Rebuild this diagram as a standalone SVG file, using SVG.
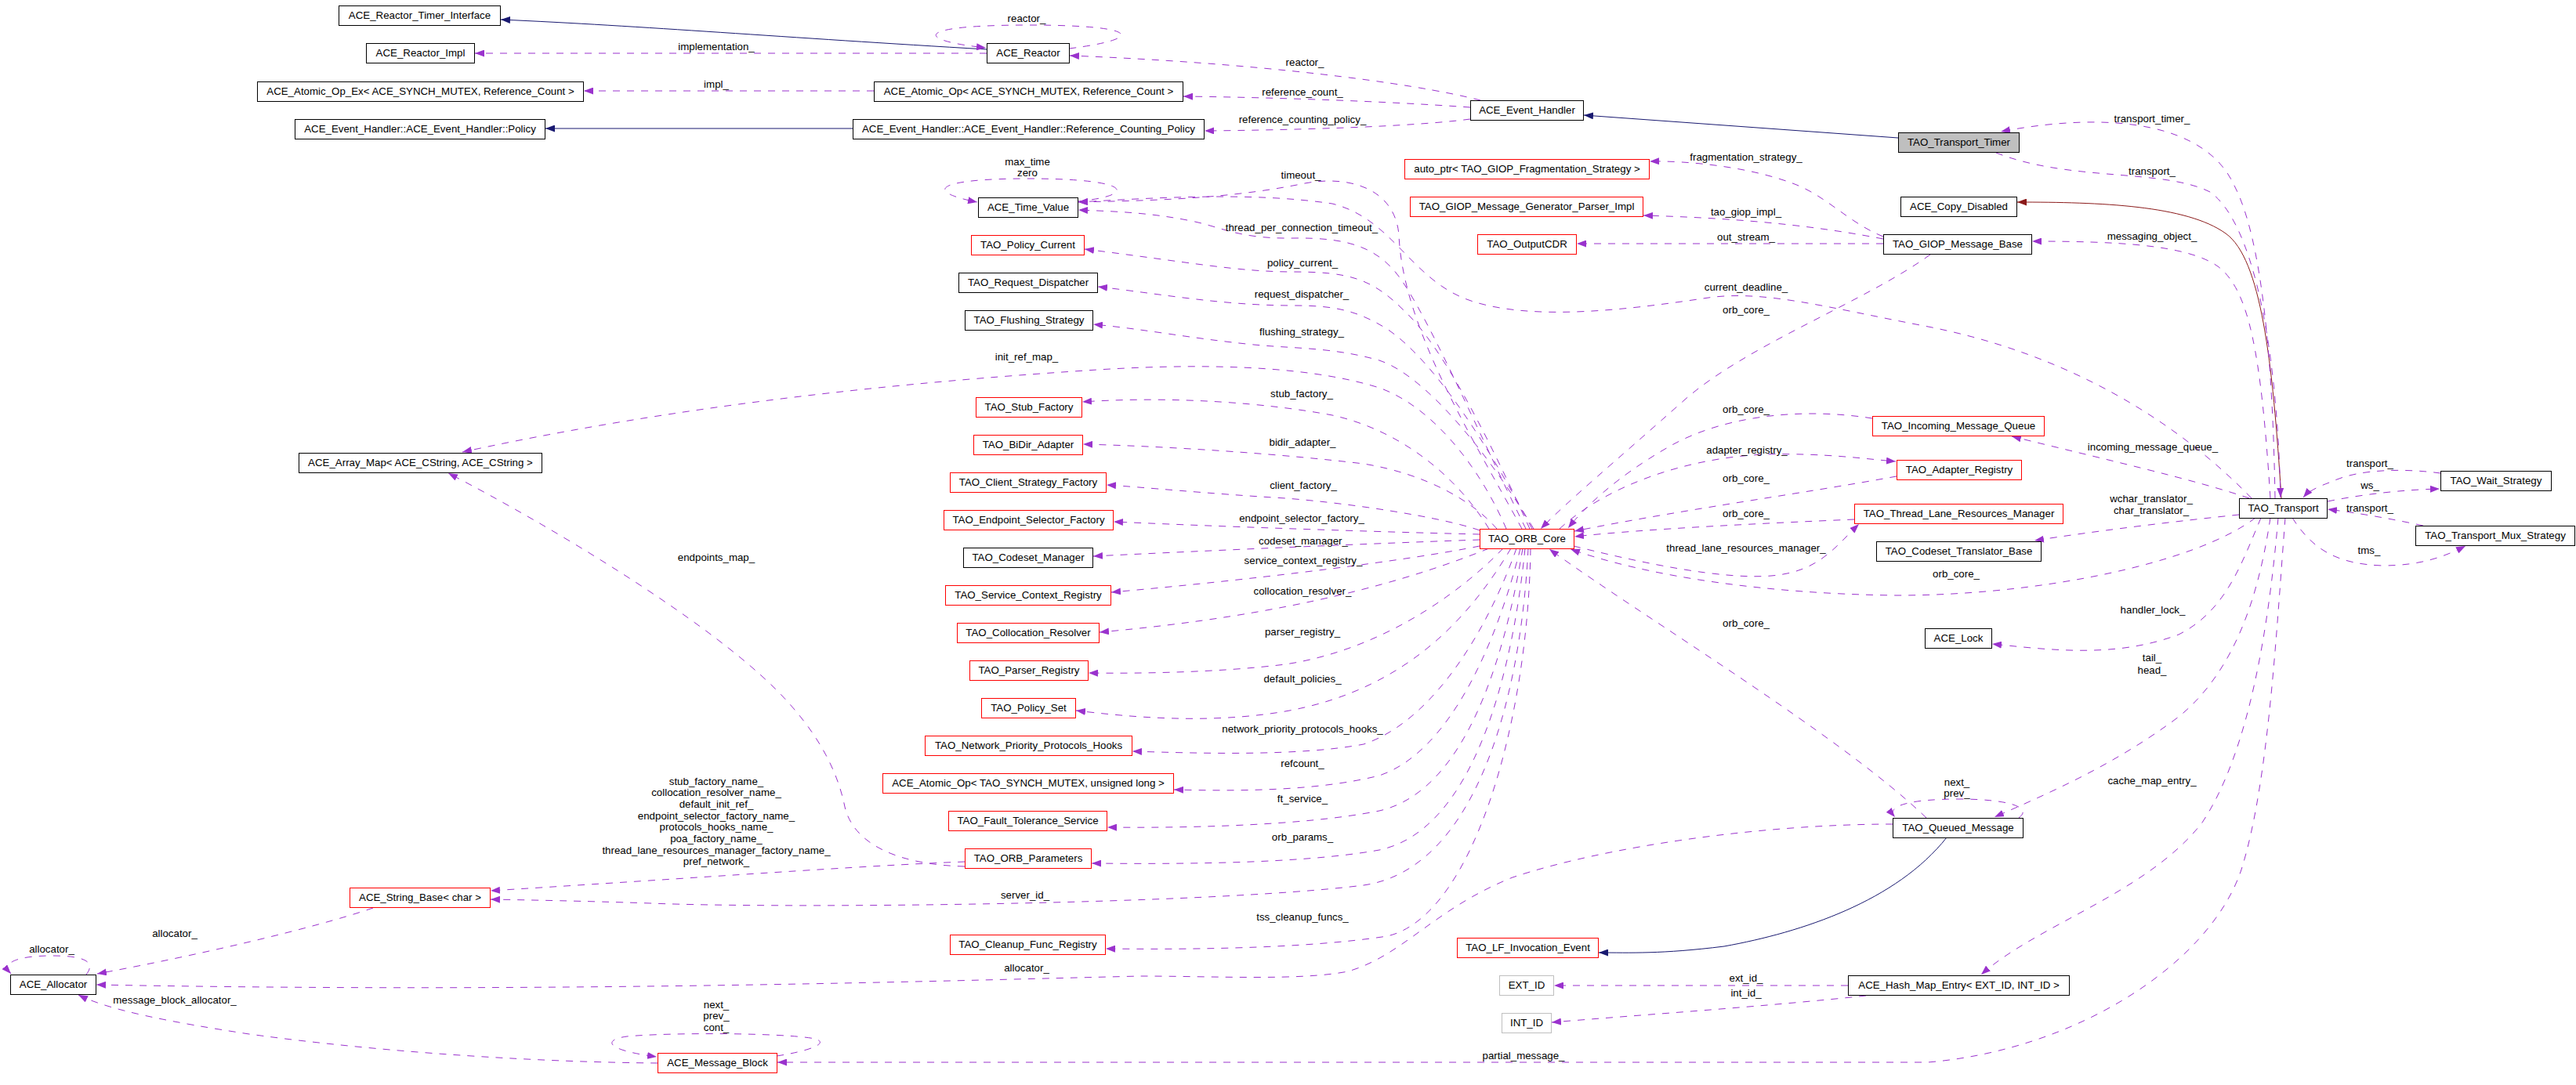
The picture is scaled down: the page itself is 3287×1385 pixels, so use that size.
<svg xmlns="http://www.w3.org/2000/svg" width="3287" height="1385" viewBox="0 0 3287 1385">
<defs>
<style>
.t{font-family:"Liberation Sans",Arial,Helvetica,sans-serif;font-size:13.3px;text-anchor:middle;fill:#000}
.nd rect{fill:#fff;stroke:#000;stroke-width:1}
.nd.r rect{stroke:#ff0000}
.nd.g rect{stroke:#bfbfbf}
.nd.root rect{fill:#bfbfbf}
.u{fill:none;stroke:#9a32cd;stroke-width:1;stroke-dasharray:9,9;marker-end:url(#mu)}
.i{fill:none;stroke:#191970;stroke-width:1;marker-end:url(#mi)}
.p{fill:none;stroke:#8b1a1a;stroke-width:1;marker-end:url(#mp)}
</style>
<marker id="mu" viewBox="0 0 12 9" refX="12" refY="4.5" markerWidth="12" markerHeight="9" markerUnits="userSpaceOnUse" orient="auto"><path d="M0,0 L12,4.5 L0,9 z" fill="#9a32cd" stroke="none"/></marker>
<marker id="mi" viewBox="0 0 12 9" refX="12" refY="4.5" markerWidth="12" markerHeight="9" markerUnits="userSpaceOnUse" orient="auto"><path d="M0,0 L12,4.5 L0,9 z" fill="#191970" stroke="none"/></marker>
<marker id="mp" viewBox="0 0 12 9" refX="12" refY="4.5" markerWidth="12" markerHeight="9" markerUnits="userSpaceOnUse" orient="auto"><path d="M0,0 L12,4.5 L0,9 z" fill="#8b1a1a" stroke="none"/></marker>
</defs>
<rect x="0" y="0" width="3287" height="1385" fill="#fff"/>
<g id="edges">
<!-- inheritance -->
<path class="i" d="M1259,63 C1000,48 820,33 639,25"/>
<path class="i" d="M1088,164 L696,164"/>
<path class="i" d="M2422,176 L2021,147"/>
<path class="p" d="M2911,636 C2900,460 2885,330 2840,298 C2790,262 2680,258 2574,258"/>
<path class="i" d="M2484,1069 C2420,1150 2300,1190 2200,1208 C2120,1218 2080,1216 2040,1216"/>
<!-- ACE_Reactor -->
<path class="u" d="M1259,68 L606,68"/>
<text class="t" x="914" y="64">implementation_</text>
<path class="u" d="M1364,62 C1460,50 1460,32 1312,32 C1160,32 1170,52 1258,61"/>
<text class="t" x="1310" y="28">reactor_</text>
<path class="u" d="M1115,116 L745,116"/>
<text class="t" x="914" y="112">impl_</text>
<!-- ACE_Event_Handler -->
<path class="u" d="M1889,128 C1800,105 1600,80 1365,71"/>
<text class="t" x="1665" y="84">reactor_</text>
<path class="u" d="M1876,137 C1750,128 1600,124 1510,123"/>
<text class="t" x="1662" y="122">reference_count_</text>
<path class="u" d="M1876,152 C1800,162 1650,166 1537,167"/>
<text class="t" x="1662" y="157">reference_counting_policy_</text>
<!-- Transport_Timer / Transport -->
<path class="u" d="M2903,636 C2900,450 2885,300 2850,235 C2815,160 2700,140 2553,168"/>
<text class="t" x="2746" y="156">transport_timer_</text>
<path class="u" d="M2547,195 C2640,232 2760,215 2820,245 C2870,280 2905,420 2910,635"/>
<text class="t" x="2746" y="223">transport_</text>
<path class="u" d="M2897,636 C2885,450 2870,370 2830,340 C2790,312 2700,308 2593,308"/>
<text class="t" x="2746" y="306">messaging_object_</text>
<!-- GIOP_Message_Base -->
<path class="u" d="M2403,302 C2360,285 2330,250 2290,235 C2230,212 2150,205 2105,206"/>
<text class="t" x="2228" y="205">fragmentation_strategy_</text>
<path class="u" d="M2403,305 C2300,285 2200,278 2097,275"/>
<text class="t" x="2228" y="275">tao_giop_impl_</text>
<path class="u" d="M2403,311 L2012,311"/>
<text class="t" x="2228" y="307">out_stream_</text>
<path class="u" d="M2463,325 C2380,385 2230,440 2150,510 C2060,590 2000,640 1966,675"/>
<text class="t" x="2228" y="400">orb_core_</text>
<!-- current_deadline_ -->
<path class="u" d="M2873,636 C2780,540 2640,450 2450,415 C2330,392 2250,370 2180,380 C2080,395 1960,410 1880,385 C1800,360 1780,280 1700,260 C1600,245 1480,252 1376,258"/>
<text class="t" x="2228" y="371">current_deadline_</text>
<!-- Time_Value self loop -->
<path class="u" d="M1375,257 C1450,250 1450,228 1312,228 C1190,228 1180,245 1247,258"/>
<text class="t" x="1311" y="211">max_time</text>
<text class="t" x="1311" y="225">zero</text>
<!-- ORB_Core to left -->
<path class="u" d="M1942,675 C1880,560 1790,420 1785,300 C1780,240 1720,222 1660,235 C1560,255 1460,256 1376,258"/>
<text class="t" x="1660" y="228">timeout_</text>
<path class="u" d="M1947,675 C1890,560 1830,420 1790,360 C1760,315 1720,303 1650,304 C1580,305 1560,290 1520,282 C1470,272 1430,270 1376,268"/>
<text class="t" x="1661" y="295">thread_per_connection_timeout_</text>
<path class="u" d="M1952,675 C1900,560 1840,440 1790,395 C1750,355 1720,347 1650,347 C1580,347 1520,335 1384,318"/>
<text class="t" x="1662" y="340">policy_current_</text>
<path class="u" d="M1955,675 C1900,570 1830,460 1770,420 C1730,395 1700,390 1650,390 C1560,390 1480,375 1401,366"/>
<text class="t" x="1661" y="380">request_dispatcher_</text>
<path class="u" d="M1957,675 C1900,580 1820,480 1760,460 C1700,443 1650,445 1600,440 C1520,432 1460,420 1395,414"/>
<text class="t" x="1661" y="428">flushing_strategy_</text>
<path class="u" d="M1922,675 C1890,600 1830,520 1760,495 C1680,470 1560,462 1400,472 C1200,485 900,510 590,577"/>
<text class="t" x="1310" y="460">init_ref_map_</text>
<path class="u" d="M1900,675 C1860,610 1790,550 1700,530 C1620,515 1500,505 1381,513"/>
<text class="t" x="1661" y="507">stub_factory_</text>
<path class="u" d="M1910,675 C1880,640 1820,605 1740,592 C1640,580 1500,570 1382,567"/>
<text class="t" x="1662" y="569">bidir_adapter_</text>
<path class="u" d="M1888,677 C1840,660 1720,642 1640,636 C1540,630 1460,622 1412,619"/>
<text class="t" x="1663" y="624">client_factory_</text>
<path class="u" d="M1888,682 C1800,680 1600,674 1421,666"/>
<text class="t" x="1661" y="666">endpoint_selector_factory_</text>
<path class="u" d="M1888,689 C1800,692 1600,700 1395,710"/>
<text class="t" x="1663" y="695">codeset_manager_</text>
<path class="u" d="M1888,697 C1800,715 1600,740 1418,756"/>
<text class="t" x="1663" y="720">service_context_registry_</text>
<path class="u" d="M1900,700 C1800,740 1650,785 1403,807"/>
<text class="t" x="1662" y="759">collocation_resolver_</text>
<path class="u" d="M1918,700 C1860,760 1760,830 1640,848 C1560,858 1460,860 1389,859"/>
<text class="t" x="1662" y="811">parser_registry_</text>
<path class="u" d="M1928,700 C1880,780 1800,880 1640,908 C1540,925 1440,915 1373,907"/>
<text class="t" x="1662" y="871">default_policies_</text>
<path class="u" d="M1935,700 C1900,800 1830,920 1740,950 C1660,965 1540,962 1445,959"/>
<text class="t" x="1662" y="935">network_priority_protocols_hooks_</text>
<path class="u" d="M1940,700 C1910,820 1850,960 1760,990 C1680,1010 1580,1010 1498,1008"/>
<text class="t" x="1662" y="979">refcount_</text>
<path class="u" d="M1943,700 C1920,840 1870,1010 1760,1035 C1660,1055 1500,1057 1413,1056"/>
<text class="t" x="1662" y="1024">ft_service_</text>
<path class="u" d="M1946,700 C1930,860 1880,1060 1760,1085 C1660,1103 1500,1103 1393,1102"/>
<text class="t" x="1662" y="1073">orb_params_</text>
<path class="u" d="M1950,700 C1940,900 1880,1110 1740,1130 C1540,1155 1000,1160 830,1153 C740,1150 680,1149 626,1148"/>
<text class="t" x="1308" y="1147">server_id_</text>
<path class="u" d="M1953,700 C1950,920 1880,1170 1770,1195 C1660,1212 1500,1212 1411,1211"/>
<text class="t" x="1662" y="1175">tss_cleanup_funcs_</text>
<!-- ORB_Parameters -->
<path class="u" d="M1231,1100 C1100,1105 900,1120 626,1137"/>
<text class="t" x="914" y="1002">stub_factory_name_</text>
<text class="t" x="914" y="1016">collocation_resolver_name_</text>
<text class="t" x="914" y="1031">default_init_ref_</text>
<text class="t" x="914" y="1046">endpoint_selector_factory_name_</text>
<text class="t" x="914" y="1060">protocols_hooks_name_</text>
<text class="t" x="914" y="1075">poa_factory_name_</text>
<text class="t" x="914" y="1090">thread_lane_resources_manager_factory_name_</text>
<text class="t" x="914" y="1104">pref_network_</text>
<path class="u" d="M1231,1106 C1150,1104 1090,1080 1078,1030 C1068,980 1040,930 990,880 C900,790 700,670 572,604"/>
<text class="t" x="914" y="716">endpoints_map_</text>
<!-- String_Base / Allocator / Message_Block -->
<path class="u" d="M476,1159 C400,1185 250,1220 124,1243"/>
<text class="t" x="223" y="1196">allocator_</text>
<path class="u" d="M110,1244 C125,1225 100,1220 66,1220 C25,1220 0,1228 14,1243"/>
<text class="t" x="66" y="1216">allocator_</text>
<path class="u" d="M839,1357 C700,1356 500,1345 318,1320 C220,1305 140,1290 100,1270"/>
<text class="t" x="223" y="1281">message_block_allocator_</text>
<path class="u" d="M991,1348 C1030,1342 1060,1332 1040,1326 C1000,1318 850,1318 800,1323 C770,1327 770,1340 838,1349"/>
<text class="t" x="914" y="1287">next_</text>
<text class="t" x="914" y="1301">prev_</text>
<text class="t" x="914" y="1316">cont_</text>
<!-- Queued_Message -->
<path class="u" d="M2415,1052 C2250,1052 2050,1080 1930,1120 C1830,1160 1790,1220 1720,1240 C1660,1252 1550,1246 1455,1246 C1200,1252 700,1268 123,1257"/>
<text class="t" x="1310" y="1240">allocator_</text>
<path class="u" d="M2458,1044 C2350,940 2100,790 1977,701"/>
<text class="t" x="2228" y="800">orb_core_</text>
<path class="u" d="M2576,1044 C2595,1030 2560,1020 2500,1020 C2440,1020 2405,1028 2418,1043"/>
<text class="t" x="2497" y="1003">next_</text>
<text class="t" x="2497" y="1017">prev_</text>
<!-- Hash_Map_Entry -->
<path class="u" d="M2358,1258 L1983,1258"/>
<text class="t" x="2228" y="1253">ext_id_</text>
<path class="u" d="M2381,1271 C2250,1285 2100,1295 1980,1305"/>
<text class="t" x="2228" y="1272">int_id_</text>
<!-- Transport lower -->
<path class="u" d="M2916,661 C2905,800 2895,1000 2860,1110 C2820,1230 2650,1340 2460,1356 L992,1356"/>
<text class="t" x="1944" y="1352">partial_message_</text>
<path class="u" d="M2907,661 C2895,800 2870,960 2810,1050 C2740,1140 2600,1180 2528,1244"/>
<text class="t" x="2746" y="1001">cache_map_entry_</text>
<path class="u" d="M2897,661 C2885,740 2860,850 2780,915 C2700,975 2620,1010 2545,1043"/>
<text class="t" x="2746" y="844">tail_</text>
<text class="t" x="2746" y="860">head_</text>
<path class="u" d="M2885,661 C2860,720 2840,780 2780,810 C2700,840 2620,830 2542,822"/>
<text class="t" x="2747" y="783">handler_lock_</text>
<path class="u" d="M2878,661 C2800,720 2600,760 2420,760 C2250,758 2100,735 2004,701"/>
<text class="t" x="2496" y="737">orb_core_</text>
<path class="u" d="M2857,657 C2780,665 2680,677 2596,690"/>
<text class="t" x="2745" y="641">wchar_translator_</text>
<text class="t" x="2745" y="656">char_translator_</text>
<path class="u" d="M2870,636 C2800,612 2680,585 2567,557"/>
<text class="t" x="2747" y="575">incoming_message_queue_</text>
<!-- Wait / Mux -->
<path class="u" d="M2970,640 C3020,630 3070,625 3113,624"/>
<text class="t" x="3024" y="624">ws_</text>
<path class="u" d="M3114,604 C3070,598 3010,598 2975,615 C2955,622 2945,628 2939,635"/>
<text class="t" x="3024" y="596">transport_</text>
<path class="u" d="M3092,671 C3050,662 3010,655 2970,650"/>
<text class="t" x="3024" y="653">transport_</text>
<path class="u" d="M2925,661 C2950,700 2980,720 3040,722 C3090,722 3120,710 3146,697"/>
<text class="t" x="3023" y="707">tms_</text>
<!-- ORB_Core right -->
<path class="u" d="M2389,534 C2300,520 2200,530 2130,570 C2060,610 2020,650 2001,674"/>
<text class="t" x="2228" y="527">orb_core_</text>
<path class="u" d="M1990,675 C2050,620 2150,585 2250,580 C2330,578 2380,586 2419,589"/>
<text class="t" x="2229" y="579">adapter_registry_</text>
<path class="u" d="M2420,608 C2300,630 2150,650 2009,678"/>
<text class="t" x="2228" y="615">orb_core_</text>
<path class="u" d="M2366,663 C2250,668 2100,675 2009,685"/>
<text class="t" x="2228" y="660">orb_core_</text>
<path class="u" d="M2008,697 C2100,720 2200,740 2260,735 C2320,730 2340,700 2372,669"/>
<text class="t" x="2228" y="704">thread_lane_resources_manager_</text>
</g>
<g id="node-timer-interface" class="nd"><rect x="432.5" y="7.5" width="206" height="25"/><text class="t" x="535.5" y="24">ACE_Reactor_Timer_Interface</text></g>
<g id="node-reactor-impl" class="nd"><rect x="467.5" y="55.5" width="138" height="25"/><text class="t" x="536.5" y="72">ACE_Reactor_Impl</text></g>
<g id="node-atomic-op-ex" class="nd"><rect x="328.5" y="104.5" width="416" height="25"/><text class="t" x="536.5" y="121">ACE_Atomic_Op_Ex&lt; ACE_SYNCH_MUTEX, Reference_Count &gt;</text></g>
<g id="node-eh-policy" class="nd"><rect x="376.5" y="152.5" width="319" height="25"/><text class="t" x="536" y="169">ACE_Event_Handler::ACE_Event_Handler::Policy</text></g>
<g id="node-reactor" class="nd"><rect x="1259.5" y="55.5" width="105" height="25"/><text class="t" x="1312" y="72">ACE_Reactor</text></g>
<g id="node-atomic-op" class="nd"><rect x="1115.5" y="104.5" width="394" height="25"/><text class="t" x="1312.5" y="121">ACE_Atomic_Op&lt; ACE_SYNCH_MUTEX, Reference_Count &gt;</text></g>
<g id="node-rcp" class="nd"><rect x="1088.5" y="152.5" width="448" height="25"/><text class="t" x="1312.5" y="169">ACE_Event_Handler::ACE_Event_Handler::Reference_Counting_Policy</text></g>
<g id="node-event-handler" class="nd"><rect x="1876.5" y="128.5" width="144" height="25"/><text class="t" x="1948.5" y="145">ACE_Event_Handler</text></g>
<g id="node-transport-timer" class="nd root"><rect x="2422.5" y="169.5" width="154" height="25"/><text class="t" x="2499.5" y="186">TAO_Transport_Timer</text></g>
<g id="node-auto-ptr" class="nd r"><rect x="1792.5" y="203.5" width="312" height="25"/><text class="t" x="1948.5" y="220">auto_ptr&lt; TAO_GIOP_Fragmentation_Strategy &gt;</text></g>
<g id="node-giop-gen" class="nd r"><rect x="1799.5" y="251.5" width="297" height="25"/><text class="t" x="1948" y="268">TAO_GIOP_Message_Generator_Parser_Impl</text></g>
<g id="node-outputcdr" class="nd r"><rect x="1885.5" y="299.5" width="126" height="25"/><text class="t" x="1948.5" y="316">TAO_OutputCDR</text></g>
<g id="node-giop-base" class="nd"><rect x="2403.5" y="299.5" width="189" height="25"/><text class="t" x="2498" y="316">TAO_GIOP_Message_Base</text></g>
<g id="node-copy-disabled" class="nd"><rect x="2425.5" y="251.5" width="148" height="25"/><text class="t" x="2499.5" y="268">ACE_Copy_Disabled</text></g>
<g id="node-time-value" class="nd"><rect x="1248.5" y="252.5" width="127" height="25"/><text class="t" x="1312" y="269">ACE_Time_Value</text></g>
<g id="node-policy-current" class="nd r"><rect x="1239.5" y="300.5" width="144" height="25"/><text class="t" x="1311.5" y="317">TAO_Policy_Current</text></g>
<g id="node-request-dispatcher" class="nd"><rect x="1223.5" y="348.5" width="177" height="25"/><text class="t" x="1312" y="365">TAO_Request_Dispatcher</text></g>
<g id="node-flushing" class="nd"><rect x="1231.5" y="396.5" width="163" height="25"/><text class="t" x="1313" y="413">TAO_Flushing_Strategy</text></g>
<g id="node-array-map" class="nd"><rect x="381.5" y="578.5" width="310" height="25"/><text class="t" x="536.5" y="595">ACE_Array_Map&lt; ACE_CString, ACE_CString &gt;</text></g>
<g id="node-stub-factory" class="nd r"><rect x="1245.5" y="507.5" width="135" height="25"/><text class="t" x="1313" y="524">TAO_Stub_Factory</text></g>
<g id="node-bidir" class="nd r"><rect x="1242.5" y="555.5" width="139" height="25"/><text class="t" x="1312" y="572">TAO_BiDir_Adapter</text></g>
<g id="node-client-strategy" class="nd r"><rect x="1212.5" y="603.5" width="199" height="25"/><text class="t" x="1312" y="620">TAO_Client_Strategy_Factory</text></g>
<g id="node-endpoint-selector" class="nd r"><rect x="1204.5" y="651.5" width="216" height="25"/><text class="t" x="1312.5" y="668">TAO_Endpoint_Selector_Factory</text></g>
<g id="node-codeset-manager" class="nd"><rect x="1229.5" y="699.5" width="165" height="25"/><text class="t" x="1312" y="716">TAO_Codeset_Manager</text></g>
<g id="node-service-context" class="nd r"><rect x="1206.5" y="747.5" width="211" height="25"/><text class="t" x="1312" y="764">TAO_Service_Context_Registry</text></g>
<g id="node-collocation" class="nd r"><rect x="1221.5" y="795.5" width="181" height="25"/><text class="t" x="1312" y="812">TAO_Collocation_Resolver</text></g>
<g id="node-parser-registry" class="nd r"><rect x="1237.5" y="843.5" width="151" height="25"/><text class="t" x="1313" y="860">TAO_Parser_Registry</text></g>
<g id="node-policy-set" class="nd r"><rect x="1252.5" y="891.5" width="120" height="25"/><text class="t" x="1312.5" y="908">TAO_Policy_Set</text></g>
<g id="node-npph" class="nd r"><rect x="1180.5" y="939.5" width="264" height="25"/><text class="t" x="1312.5" y="956">TAO_Network_Priority_Protocols_Hooks</text></g>
<g id="node-atomic-op-tao" class="nd r"><rect x="1126.5" y="987.5" width="371" height="25"/><text class="t" x="1312" y="1004">ACE_Atomic_Op&lt; TAO_SYNCH_MUTEX, unsigned long &gt;</text></g>
<g id="node-fault-tolerance" class="nd r"><rect x="1210.5" y="1035.5" width="202" height="25"/><text class="t" x="1311.5" y="1052">TAO_Fault_Tolerance_Service</text></g>
<g id="node-orb-parameters" class="nd r"><rect x="1231.5" y="1083.5" width="161" height="25"/><text class="t" x="1312" y="1100">TAO_ORB_Parameters</text></g>
<g id="node-cleanup" class="nd r"><rect x="1212.5" y="1193.5" width="198" height="25"/><text class="t" x="1311.5" y="1210">TAO_Cleanup_Func_Registry</text></g>
<g id="node-message-block" class="nd r"><rect x="839.5" y="1344.5" width="152" height="25"/><text class="t" x="915.5" y="1361">ACE_Message_Block</text></g>
<g id="node-string-base" class="nd r"><rect x="446.5" y="1133.5" width="179" height="25"/><text class="t" x="536" y="1150">ACE_String_Base&lt; char &gt;</text></g>
<g id="node-allocator" class="nd"><rect x="13.5" y="1244.5" width="109" height="25"/><text class="t" x="68" y="1261">ACE_Allocator</text></g>
<g id="node-orb-core" class="nd r"><rect x="1888.5" y="675.5" width="120" height="25"/><text class="t" x="1948.5" y="692">TAO_ORB_Core</text></g>
<g id="node-imq" class="nd r"><rect x="2389.5" y="531.5" width="219" height="25"/><text class="t" x="2499" y="548">TAO_Incoming_Message_Queue</text></g>
<g id="node-adapter-registry" class="nd r"><rect x="2420.5" y="587.5" width="159" height="25"/><text class="t" x="2500" y="604">TAO_Adapter_Registry</text></g>
<g id="node-tlrm" class="nd r"><rect x="2366.5" y="643.5" width="266" height="25"/><text class="t" x="2499.5" y="660">TAO_Thread_Lane_Resources_Manager</text></g>
<g id="node-codeset-translator" class="nd"><rect x="2394.5" y="691.5" width="210" height="25"/><text class="t" x="2499.5" y="708">TAO_Codeset_Translator_Base</text></g>
<g id="node-ace-lock" class="nd"><rect x="2456.5" y="802.5" width="85" height="25"/><text class="t" x="2499" y="819">ACE_Lock</text></g>
<g id="node-transport" class="nd"><rect x="2857.5" y="636.5" width="112" height="25"/><text class="t" x="2913.5" y="653">TAO_Transport</text></g>
<g id="node-wait-strategy" class="nd"><rect x="3114.5" y="601.5" width="141" height="25"/><text class="t" x="3185" y="618">TAO_Wait_Strategy</text></g>
<g id="node-mux-strategy" class="nd"><rect x="3082.5" y="671.5" width="203" height="25"/><text class="t" x="3184" y="688">TAO_Transport_Mux_Strategy</text></g>
<g id="node-lf-event" class="nd r"><rect x="1859.5" y="1197.5" width="180" height="25"/><text class="t" x="1949.5" y="1214">TAO_LF_Invocation_Event</text></g>
<g id="node-ext-id" class="nd g"><rect x="1913.5" y="1245.5" width="69" height="25"/><text class="t" x="1948" y="1262">EXT_ID</text></g>
<g id="node-int-id" class="nd g"><rect x="1916.5" y="1293.5" width="63" height="25"/><text class="t" x="1948" y="1310">INT_ID</text></g>
<g id="node-queued-message" class="nd"><rect x="2415.5" y="1044.5" width="166" height="25"/><text class="t" x="2498.5" y="1061">TAO_Queued_Message</text></g>
<g id="node-hash-map-entry" class="nd"><rect x="2358.5" y="1245.5" width="282" height="25"/><text class="t" x="2499.5" y="1262">ACE_Hash_Map_Entry&lt; EXT_ID, INT_ID &gt;</text></g>
</svg>
